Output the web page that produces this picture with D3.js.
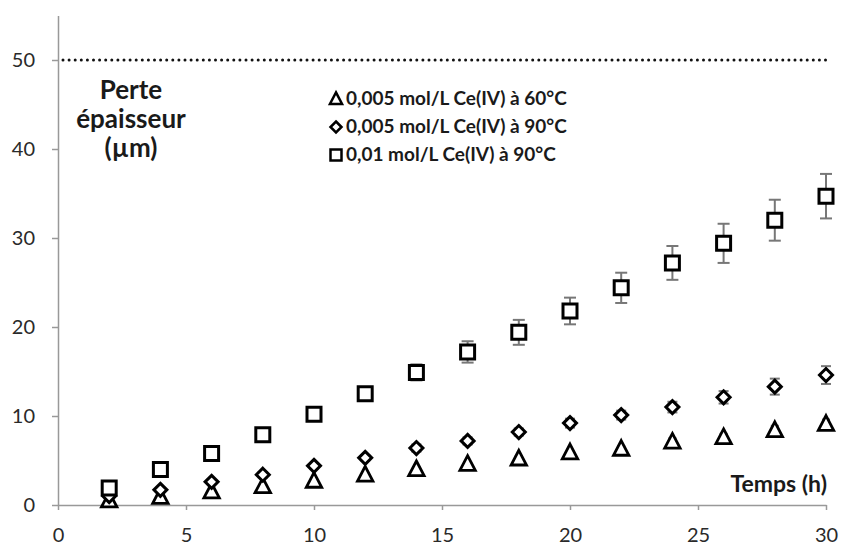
<!DOCTYPE html>
<html>
<head>
<meta charset="utf-8">
<script src="https://cdn.jsdelivr.net/npm/d3@7"></script>
<style>
  body { margin: 0; background: #fff; }
</style>
</head>
<body>
<div id="chart"></div>
<script>
// temps (h)
const temps = [2, 4, 6, 8, 10, 12, 14, 16, 18, 20, 22, 24, 26, 28, 30];

// perte d'épaisseur (µm)
const tri60 = [0.5, 0.9, 1.5, 2.1, 2.7, 3.4, 4.0, 4.6, 5.2, 5.9, 6.3, 7.1, 7.6, 8.4, 9.1];
const tri60Err = [0.1, 0.1, 0.1, 0.1, 0.2, 0.2, 0.2, 0.2, 0.3, 0.3, 0.3, 0.4, 0.4, 0.5, 0.5];
const dia90 = [1.0, 1.7, 2.6, 3.4, 4.4, 5.3, 6.4, 7.2, 8.2, 9.2, 10.1, 11.0, 12.1, 13.3, 14.6];
const dia90Err = [0.1, 0.2, 0.2, 0.3, 0.3, 0.3, 0.4, 0.4, 0.4, 0.5, 0.5, 0.6, 0.7, 0.9, 1.0];
const sq90 = [1.9, 4.0, 5.8, 7.9, 10.2, 12.5, 14.9, 17.2, 19.4, 21.8, 24.4, 27.2, 29.4, 32.0, 34.7];
const sq90Err = [0.3, 0.4, 0.4, 0.5, 0.6, 0.7, 0.9, 1.2, 1.4, 1.5, 1.7, 1.9, 2.2, 2.3, 2.5];

const xTicks = [0, 5, 10, 15, 20, 25, 30];
const yTicks = [0, 10, 20, 30, 40, 50];
const limite = 50;

const legendLabels = [
  "0,005 mol/L Ce(IV) à 60°C",
  "0,005 mol/L Ce(IV) à 90°C",
  "0,01 mol/L Ce(IV) à 90°C"
];

const width = 841, height = 545;
const svg = d3.select("#chart").append("svg")
  .attr("width", width)
  .attr("height", height)
  .style("font-family", "Lato, 'Open Sans', sans-serif");

const x = d3.scaleLinear().domain([0, 30]).range([58, 826]);
const y = d3.scaleLinear().domain([0, 55]).range([505, 15.5]);

// axes
const xAxis = svg.append("g")
  .attr("transform", `translate(0,${y(0)})`)
  .call(d3.axisBottom(x).tickValues(xTicks).tickSize(5).tickPadding(18).tickSizeOuter(0));
const yAxis = svg.append("g")
  .attr("transform", `translate(${x(0)},0)`)
  .call(d3.axisLeft(y).tickValues(yTicks).tickSize(6).tickPadding(17).tickSizeOuter(0));

[xAxis, yAxis].forEach(a => {
  a.select(".domain").attr("stroke", "#999").attr("stroke-width", 1.5);
  a.selectAll(".tick line").attr("stroke", "#999").attr("stroke-width", 1.5);
  a.selectAll(".tick text")
    .attr("fill", "#2a2a2a")
    .style("font-size", "20px")
    .style("font-family", "Lato, sans-serif");
});

// ligne pointillée à 50 µm
svg.append("line")
  .attr("x1", x(0) + 5).attr("x2", x(30))
  .attr("y1", y(limite)).attr("y2", y(limite))
  .attr("stroke", "#111")
  .attr("stroke-width", 3)
  .attr("stroke-dasharray", "0 6.1")
  .attr("stroke-linecap", "round");

// barres d'erreur
function errBars(vals, errs, cap) {
  const g = svg.append("g").attr("stroke", "#777").attr("stroke-width", 2);
  temps.forEach((t, i) => {
    const cx = x(t), top = y(vals[i] + errs[i]), bot = y(vals[i] - errs[i]);
    g.append("line").attr("x1", cx).attr("x2", cx).attr("y1", top).attr("y2", bot);
    g.append("line").attr("x1", cx - cap).attr("x2", cx + cap).attr("y1", top).attr("y2", top);
    g.append("line").attr("x1", cx - cap).attr("x2", cx + cap).attr("y1", bot).attr("y2", bot);
  });
}
errBars(sq90, sq90Err, 6);
errBars(dia90, dia90Err, 5);
errBars(tri60, tri60Err, 4);

const triPath = s => `M0,${-s * 0.6}L${s * 0.55},${s * 0.45}L${-s * 0.55},${s * 0.45}Z`;
const diaPath = s => `M0,${-s / 2}L${s / 2},0L0,${s / 2}L${-s / 2},0Z`;
const sqPath = s => `M${-s / 2},${-s / 2}h${s}v${s}h${-s}Z`;

function markers(vals, path, sw) {
  svg.append("g").selectAll("path")
    .data(vals)
    .enter()
    .append("path")
    .attr("transform", (d, i) => `translate(${x(temps[i])},${y(d)})`)
    .attr("d", path)
    .attr("fill", "#fff")
    .attr("stroke", "#000")
    .attr("stroke-width", sw)
    .attr("stroke-linejoin", "miter");
}
markers(tri60, triPath(14), 2.8);
markers(dia90, diaPath(13), 3);
markers(sq90, sqPath(14), 3);

// titre de l'axe y
const yTitle = svg.append("text")
  .attr("text-anchor", "middle")
  .attr("font-weight", "bold")
  .style("font-size", "26px")
  .attr("fill", "#1a1a1a");
["Perte", "épaisseur", "(µm)"].forEach((l, i) => {
  yTitle.append("tspan").attr("x", 131).attr("y", 99 + i * 29).text(l);
});

// titre de l'axe x
svg.append("text")
  .attr("x", 827).attr("y", 492)
  .attr("text-anchor", "end")
  .attr("font-weight", "bold")
  .style("font-size", "23px")
  .attr("fill", "#1a1a1a")
  .text("Temps (h)");

// légende
const legPaths = [triPath(11), diaPath(11), sqPath(11)];
const leg = svg.append("g");
legendLabels.forEach((l, i) => {
  const ly = 105 + i * 28;
  leg.append("path")
    .attr("transform", `translate(${336},${ly - 6})`)
    .attr("d", legPaths[i])
    .attr("fill", "#fff")
    .attr("stroke", "#000")
    .attr("stroke-width", 2.5);
  leg.append("text")
    .attr("x", 346).attr("y", ly)
    .attr("font-weight", "bold")
    .style("font-size", "19px")
    .attr("fill", "#1a1a1a")
    .text(l);
});
</script>
</body>
</html>
